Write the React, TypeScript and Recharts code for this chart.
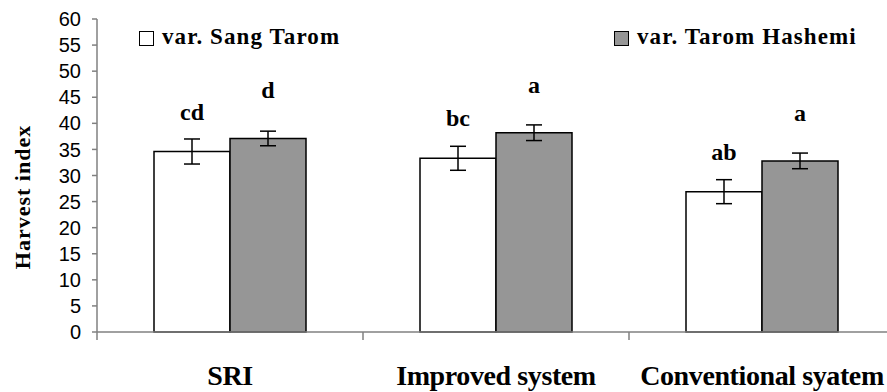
import { BarChart, Bar, XAxis, YAxis, ErrorBar, LabelList, Legend } from 'recharts'

const categories = ['SRI', 'Improved system', 'Conventional syatem']
const sangTarom = [34.6, 33.3, 26.9]
const sangTaromErr = [2.4, 2.3, 2.3]
const taromHashemi = [37.1, 38.2, 32.8]
const taromHashemiErr = [1.4, 1.5, 1.5]
const sangTaromLetters = ['cd', 'bc', 'ab']
const taromHashemiLetters = ['d', 'a', 'a']
const yTicks = [0, 5, 10, 15, 20, 25, 30, 35, 40, 45, 50, 55, 60]

const data = categories.map((name, i) => ({
  name,
  sang: sangTarom[i],
  sangErr: sangTaromErr[i],
  sangSig: sangTaromLetters[i],
  hashemi: taromHashemi[i],
  hashemiErr: taromHashemiErr[i],
  hashemiSig: taromHashemiLetters[i],
}))

const serif = 'Liberation Serif'
const sans = 'Liberation Sans'
const GREY = '#969696'

function CategoryTick(props: any) {
  const { x, y, payload } = props
  const half = payload?.offset ?? 133
  return (
    <g>
      <line x1={x - half} y1={y} x2={x - half} y2={y + 8} stroke="#808080" strokeWidth={1.5} />
      <text
        x={x}
        y={y + 53}
        textAnchor="middle"
        style={{ fontFamily: serif, fontWeight: 700, fontSize: 28, letterSpacing: -0.4 }}
        fill="#000"
      >
        {payload.value}
      </text>
    </g>
  )
}

function YLabel() {
  const cx = 22
  const cy = 197
  return (
    <text
      x={cx}
      y={cy}
      transform={`rotate(-90, ${cx}, ${cy})`}
      textAnchor="middle"
      dominantBaseline="central"
      style={{ fontFamily: serif, fontWeight: 700, fontSize: 22, letterSpacing: 1 }}
      fill="#000"
    >
      Harvest index
    </text>
  )
}

function LegendBox({ left, fill, label }: { left: number; fill: string; label: string }) {
  return (
    <div style={{ position: 'absolute', left, top: 0, display: 'flex', alignItems: 'flex-end', height: 30 }}>
      <div
        style={{
          width: 13,
          height: 13,
          border: '1.5px solid #000',
          background: fill,
          marginRight: 8,
          marginBottom: 6,
        }}
      />
      <span
        style={{
          fontFamily: serif,
          fontWeight: 700,
          fontSize: 23,
          letterSpacing: 1.1,
          lineHeight: '30px',
          color: '#000',
          whiteSpace: 'nowrap',
        }}
      >
        {label}
      </span>
    </div>
  )
}

function ChartLegend() {
  return (
    <div style={{ position: 'relative', width: 887, height: 30 }}>
      <LegendBox left={139} fill="#fff" label="var. Sang Tarom" />
      <LegendBox left={614} fill={GREY} label="var. Tarom Hashemi" />
    </div>
  )
}

export default function App() {
  return (
    <div
      style={{
        position: 'absolute',
        left: 0,
        top: 0,
        width: 887,
        height: 392,
        overflow: 'hidden',
        background: '#fff',
      }}
    >
      <BarChart
        width={900}
        height={392}
        data={data}
        margin={{ top: 19, right: 5, left: 0, bottom: 0 }}
        barCategoryGap={57}
        barGap={0}
      >
        <XAxis
          dataKey="name"
          height={60}
          axisLine={{ stroke: '#808080', strokeWidth: 1.5 }}
          tickLine={false}
          tickSize={0}
          tickMargin={0}
          tick={<CategoryTick />}
          interval={0}
        />
        <YAxis
          width={97}
          domain={[0, 60]}
          ticks={yTicks}
          interval={0}
          axisLine={{ stroke: '#808080', strokeWidth: 1.5 }}
          tickLine={{ stroke: '#808080', strokeWidth: 1.5 }}
          tickSize={5}
          tickMargin={11}
          tick={{ fontFamily: sans, fontSize: 20, fill: '#000' }}
          label={<YLabel />}
        />
        <Legend
          layout="horizontal"
          verticalAlign="middle"
          align="center"
          wrapperStyle={{ top: 22, left: 0, width: 887 }}
          content={<ChartLegend />}
        />
        <Bar dataKey="sang" name="var. Sang Tarom" fill="#fff" stroke="#000" strokeWidth={1.5} isAnimationActive={false}>
          <ErrorBar dataKey="sangErr" width={8} stroke="#000" strokeWidth={1.5} isAnimationActive={false} />
          <LabelList
            dataKey="sangSig"
            position="top"
            offset={32}
            style={{ fontFamily: serif, fontWeight: 700, fontSize: 24 }}
            fill="#000"
          />
        </Bar>
        <Bar dataKey="hashemi" name="var. Tarom Hashemi" fill={GREY} stroke="#000" strokeWidth={1.5} isAnimationActive={false}>
          <ErrorBar dataKey="hashemiErr" width={8} stroke="#000" strokeWidth={1.5} isAnimationActive={false} />
          <LabelList
            dataKey="hashemiSig"
            position="top"
            offset={40}
            style={{ fontFamily: serif, fontWeight: 700, fontSize: 24 }}
            fill="#000"
          />
        </Bar>
      </BarChart>
    </div>
  )
}
